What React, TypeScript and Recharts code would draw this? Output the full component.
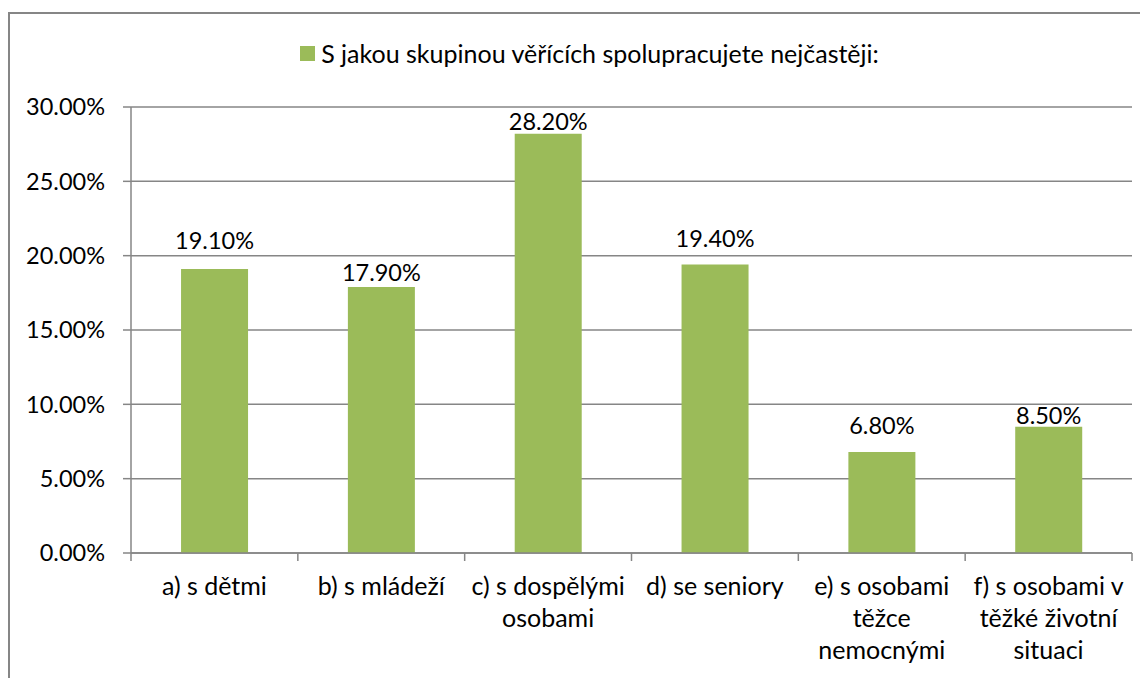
import React from 'react';
import { BarChart, Bar, XAxis, YAxis, CartesianGrid, Legend, LabelList } from 'recharts';

// ---- data ----
const categories = [
  'a) s dětmi',
  'b) s mládeží',
  'c) s dospělými osobami',
  'd) se seniory',
  'e) s osobami těžce nemocnými',
  'f) s osobami v těžké životní situaci',
];
const categoryLines = [
  ['a) s dětmi'],
  ['b) s mládeží'],
  ['c) s dospělými', 'osobami'],
  ['d) se seniory'],
  ['e) s osobami', 'těžce', 'nemocnými'],
  ['f) s osobami v', 'těžké životní', 'situaci'],
];
const values = [19.1, 17.9, 28.2, 19.4, 6.8, 8.5];
const yTicks = [0, 5, 10, 15, 20, 25, 30];
const seriesName = 'S jakou skupinou věřících spolupracujete nejčastěji:';

const data = categories.map((c, i) => ({ category: c, value: values[i] }));

// ---- style ----
const FONT = 'Lato, "Open Sans", sans-serif';
const NUM_SIZE = 23.5;
const TEXT_SIZE = 25;
const GREEN = '#9BBB59';
const GRAY = '#868686';
const CHART_W = 1140;
const CHART_H = 670;
const MARGIN = { top: 99, right: 16, bottom: 0, left: 0 };
const Y_AXIS_W = 123;
const X_AXIS_H = 125;
const BAND = (CHART_W - MARGIN.left - MARGIN.right - Y_AXIS_W) / categories.length;
const labelLift = [20, 6, 4, 18, 18, 3];

const CategoryTick = (props: any) => {
  const { x, y, payload } = props;
  const index = props.index ?? payload?.index ?? 0;
  const lines = categoryLines[index] || [String(payload.value)];
  const half = BAND / 2;
  return (
    <g>
      <line x1={x - half} x2={x - half} y1={y} y2={y + 8} stroke={GRAY} strokeWidth={1.5} />
      {index === categories.length - 1 && (
        <line x1={x + half} x2={x + half} y1={y} y2={y + 8} stroke={GRAY} strokeWidth={1.5} />
      )}
      <text x={x} y={y + 42} textAnchor="middle" fontFamily={FONT} fontSize={TEXT_SIZE} fill="#000">
        {lines.map((l: string, i: number) => (
          <tspan key={i} x={x} dy={i === 0 ? 0 : 32}>
            {l}
          </tspan>
        ))}
      </text>
    </g>
  );
};

const ValueLabel = (props: any) => {
  const { x, y, width, value } = props;
  let index = props.index;
  if (index === undefined || index === null) index = values.indexOf(value);
  const lift = labelLift[index] ?? 5;
  return (
    <text
      x={Number(x) + Number(width) / 2}
      y={Number(y) - lift}
      textAnchor="middle"
      fontFamily={FONT}
      fontSize={NUM_SIZE}
      fill="#000"
    >
      {Number(value).toFixed(2)}%
    </text>
  );
};

const LegendContent = () => (
  <div
    style={{
      display: 'flex',
      alignItems: 'center',
      justifyContent: 'center',
      paddingLeft: 23,
      height: 30,
      fontFamily: FONT,
      fontSize: TEXT_SIZE,
      color: '#000',
    }}
  >
    <span style={{ display: 'inline-block', width: 15, height: 15, background: GREEN, marginRight: 6 }} />
    <span>{seriesName}</span>
  </div>
);

export default function App() {
  return (
    <div style={{ position: 'relative', width: CHART_W, height: CHART_H, overflow: 'hidden', background: '#fff' }}>
      <style>{'html,body{overflow:hidden;}'}</style>
      <div
        style={{
          position: 'absolute',
          left: 0,
          top: 4,
          width: 1300,
          height: 900,
          border: `2px solid ${GRAY}`,
          boxSizing: 'border-box',
          pointerEvents: 'none',
        }}
      />
      <BarChart
        width={CHART_W}
        height={CHART_H}
        data={data}
        margin={MARGIN}
        barCategoryGap="30%"
      >
        <CartesianGrid vertical={false} stroke={GRAY} strokeWidth={1.5} />
        <XAxis
          dataKey="category"
          height={X_AXIS_H}
          interval={0}
          tickLine={false}
          tickSize={0}
          tickMargin={0}
          axisLine={{ stroke: GRAY, strokeWidth: 1.5 }}
          tick={<CategoryTick />}
        />
        <YAxis
          width={Y_AXIS_W}
          domain={[0, 30]}
          ticks={yTicks}
          interval={0}
          tickSize={8}
          tickMargin={18}
          tickLine={{ stroke: GRAY, strokeWidth: 1.5 }}
          axisLine={{ stroke: GRAY, strokeWidth: 1.5 }}
          tick={{ fontFamily: FONT, fontSize: NUM_SIZE, fill: '#000' }}
          tickFormatter={(v: number) => `${v.toFixed(2)}%`}
        />
        <Legend
          layout="horizontal"
          verticalAlign="middle"
          align="center"
          wrapperStyle={{ top: 30, left: 0, width: CHART_W }}
          content={<LegendContent />}
        />
        <Bar dataKey="value" name={seriesName} fill={GREEN} isAnimationActive={false}>
          <LabelList dataKey="value" content={<ValueLabel />} />
        </Bar>
      </BarChart>
    </div>
  );
}
